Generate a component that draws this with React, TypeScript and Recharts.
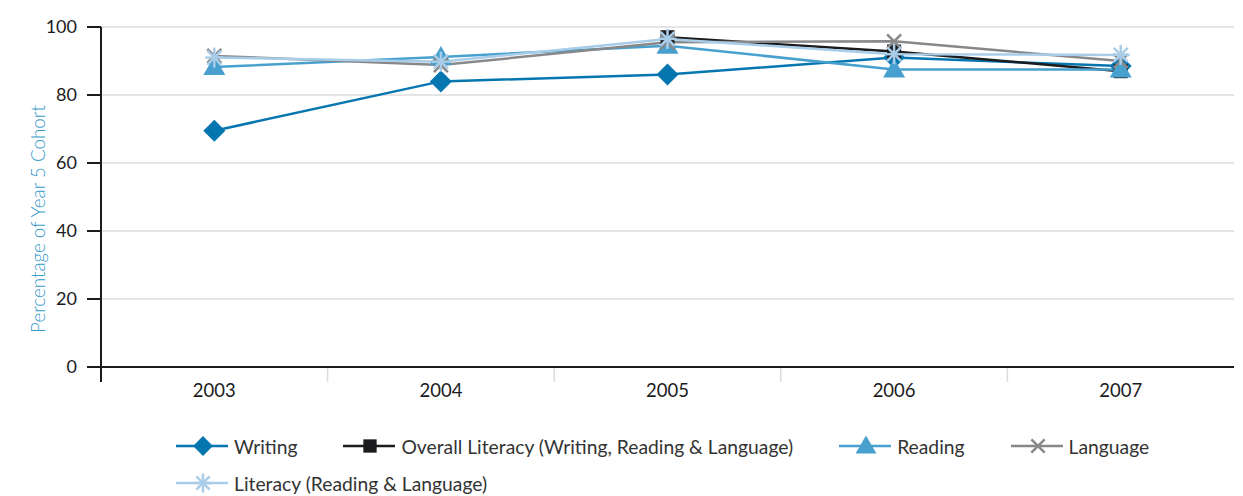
import { LineChart, Line, XAxis, YAxis, CartesianGrid } from "recharts";

const years = ["2003", "2004", "2005", "2006", "2007"];
const writing = [69.5, 84, 86, 91, 88.5];
const overallLiteracy = [null, null, 97, 92.8, 87];
const reading = [88.2, 91.2, 94.5, 87.5, 87.5];
const language = [91.5, 88.8, 95.5, 95.8, 90];
const literacy = [91, 89.8, 96.5, 92, 91.8];
const yTicks = [0, 20, 40, 60, 80, 100];

const FONT = "Lato, 'Open Sans', sans-serif";
const PLOT_LEFT = 101;
const PLOT_RIGHT = 1234;
const BAND = (PLOT_RIGHT - PLOT_LEFT) / years.length;

type Shape = "diamond" | "square" | "triangle" | "cross" | "star";

const series: { key: string; name: string; color: string; shape: Shape; values: (number | null)[] }[] = [
  { key: "writing", name: "Writing", color: "#0676b0", shape: "diamond", values: writing },
  { key: "overall", name: "Overall Literacy (Writing, Reading & Language)", color: "#1b1b1d", shape: "square", values: overallLiteracy },
  { key: "reading", name: "Reading", color: "#47a0cd", shape: "triangle", values: reading },
  { key: "language", name: "Language", color: "#88888a", shape: "cross", values: language },
  { key: "literacy", name: "Literacy (Reading & Language)", color: "#a9cde8", shape: "star", values: literacy },
];

const data = years.map((year, i) => {
  const row: Record<string, string | number | null> = { year };
  series.forEach((s) => (row[s.key] = s.values[i]));
  return row;
});

function Marker({ shape, cx, cy, color, s = 1 }: { shape: Shape; cx: number; cy: number; color: string; s?: number }) {
  switch (shape) {
    case "diamond":
      return <polygon points={`${cx},${cy - 11 * s} ${cx + 11 * s},${cy} ${cx},${cy + 11 * s} ${cx - 11 * s},${cy}`} fill={color} />;
    case "square":
      return <rect x={cx - 7 * s} y={cy - 7 * s} width={14 * s} height={14 * s} fill={color} />;
    case "triangle":
      return <polygon points={`${cx},${cy - 11 * s} ${cx + 11 * s},${cy + 8 * s} ${cx - 11 * s},${cy + 8 * s}`} fill={color} />;
    case "cross":
      return (
        <g stroke={color} strokeWidth={2.5}>
          <line x1={cx - 7 * s} y1={cy - 7 * s} x2={cx + 7 * s} y2={cy + 7 * s} />
          <line x1={cx - 7 * s} y1={cy + 7 * s} x2={cx + 7 * s} y2={cy - 7 * s} />
        </g>
      );
    case "star":
      return (
        <g stroke={color} strokeWidth={2.5}>
          <line x1={cx} y1={cy - 10 * s} x2={cx} y2={cy + 10 * s} />
          <line x1={cx - 9 * s} y1={cy} x2={cx + 9 * s} y2={cy} />
          <line x1={cx - 7 * s} y1={cy - 7 * s} x2={cx + 7 * s} y2={cy + 7 * s} />
          <line x1={cx - 7 * s} y1={cy + 7 * s} x2={cx + 7 * s} y2={cy - 7 * s} />
        </g>
      );
  }
}

const makeDot = (shape: Shape, color: string) => (props: any) => {
  const { cx, cy, index, value } = props;
  if (cx == null || cy == null || value == null) return <g key={`e-${index}`} />;
  return (
    <g key={`d-${index}`}>
      <Marker shape={shape} cx={cx} cy={cy} color={color} />
    </g>
  );
};

function YearTick(props: any) {
  const { x, y, payload, index } = props;
  return (
    <g>
      {index === 0 && <line x1={x - BAND / 2} y1={y} x2={x - BAND / 2} y2={y + 15} stroke="#1b1b1d" strokeWidth={2} />}
      {index < years.length - 1 && (
        <line x1={x + BAND / 2} y1={y + 1} x2={x + BAND / 2} y2={y + 15} stroke="#dcdcdc" strokeWidth={1.5} />
      )}
      <text x={x} y={y + 30} textAnchor="middle" fill="#1b1b1d" fontSize={18.5} fontFamily={FONT}>
        {payload.value}
      </text>
    </g>
  );
}

export default function App() {
  return (
    <div style={{ position: "absolute", left: 0, top: 0, width: 1243, height: 496, background: "#fff", fontFamily: FONT }}>
      <LineChart width={1243} height={496} data={data} margin={{ top: 27, right: 9, left: 41, bottom: 99 }}>
        <CartesianGrid vertical={false} stroke="#dcdcdc" strokeWidth={1.5} />
        <XAxis
          dataKey="year"
          scale="band"
          height={30}
          tickSize={0}
          tickMargin={0}
          axisLine={{ stroke: "#1b1b1d", strokeWidth: 2 }}
          tickLine={false}
          tick={<YearTick />}
          interval={0}
        />
        <YAxis
          width={60}
          domain={[0, 100]}
          ticks={yTicks}
          tickSize={14}
          tickMargin={10}
          axisLine={{ stroke: "#1b1b1d", strokeWidth: 2 }}
          tickLine={{ stroke: "#1b1b1d", strokeWidth: 2 }}
          tick={{ fill: "#1b1b1d", fontSize: 18, fontFamily: FONT }}
          label={{
            content: () => (
              <text
                x={37}
                y={219}
                transform="rotate(-90 37 219)"
                textAnchor="middle"
                dominantBaseline="central"
                fill="#3a9bc9"
                fontSize={18.8}
                fontFamily={FONT}
                fontWeight={300}
              >
                Percentage of Year 5 Cohort
              </text>
            ),
          }}
        />
        {series.map((s) => (
          <Line
            key={s.key}
            dataKey={s.key}
            name={s.name}
            stroke={s.color}
            strokeWidth={2.5}
            dot={makeDot(s.shape, s.color)}
            activeDot={false}
            isAnimationActive={false}
          />
        ))}
      </LineChart>
      <div
        style={{
          position: "absolute",
          left: 176,
          top: 436,
          width: 1020,
          display: "flex",
          flexWrap: "wrap",
          rowGap: 17,
          fontSize: 19.3,
          color: "#333",
        }}
      >
        {series.map((s) => (
          <div key={s.key} style={{ display: "flex", alignItems: "center", height: 20, marginRight: 46 }}>
            <svg width={52} height={20} style={{ marginRight: 6 }}>
              <line x1={0} y1={10} x2={52} y2={10} stroke={s.color} strokeWidth={2.5} />
              <Marker shape={s.shape} cx={27} cy={10} color={s.color} s={s.shape === "diamond" ? 0.9 : 0.95} />
            </svg>
            <span style={{ whiteSpace: "nowrap" }}>{s.name}</span>
          </div>
        ))}
      </div>
    </div>
  );
}
